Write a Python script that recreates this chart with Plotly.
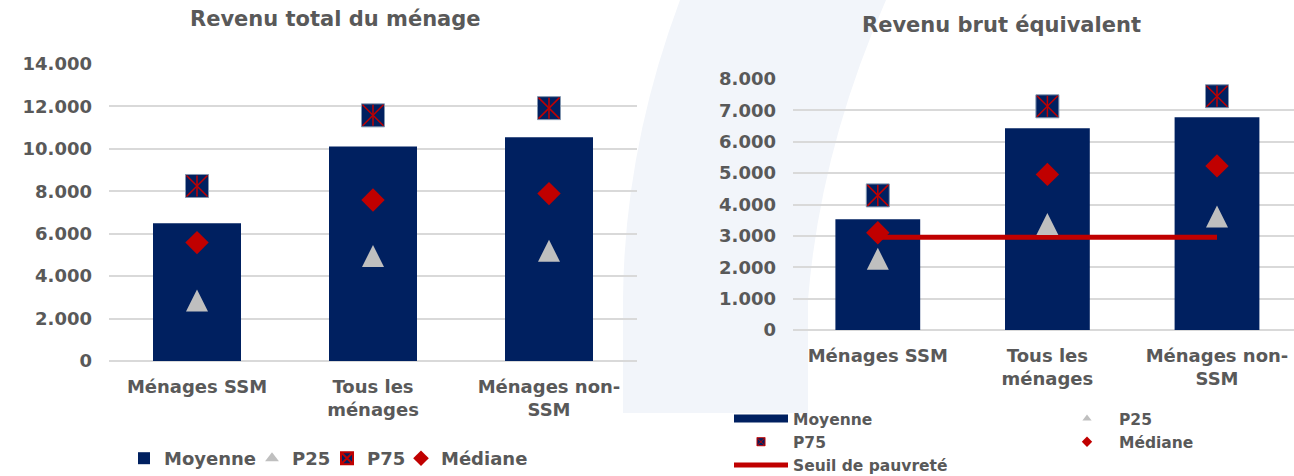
import plotly.graph_objects as go

W, H = 1294, 476

categories = ["Ménages SSM", "Tous les<br>ménages", "Ménages non-<br>SSM"]

# Revenu total du ménage
total_moyenne = [6490, 10110, 10550]
total_p25 = [2850, 4950, 5200]
total_p75 = [8250, 11580, 11920]
total_mediane = [5580, 7590, 7890]

# Revenu brut équivalent
equiv_moyenne = [3530, 6430, 6780]
equiv_p25 = [2270, 3380, 3620]
equiv_p75 = [4290, 7130, 7450]
equiv_mediane = [3100, 4960, 5230]
seuil_pauvrete = [2960, 2960, 2960]

NAVY = "#002060"
RED = "#C00000"
GREY = "#BFBFBF"
TEXT = "#595959"
GRID = "#D9D9D9"
FONT = "DejaVu Sans"


def px(x, y):
    # pixel position -> paper coordinates (margins are zero)
    return x / W, 1 - y / H


def add_panel(fig, xa, ya, moyenne, p25, p75, mediane, show):
    fig.add_trace(go.Bar(x=categories, y=moyenne, name="Moyenne", width=0.5,
                         marker=dict(color=NAVY, line=dict(width=0)),
                         xaxis=xa, yaxis=ya, legend="legend", showlegend=show))
    # isoceles triangle centred on the value
    fig.add_trace(go.Scatter(x=categories, y=p25, name="P25", mode="markers",
                             marker=dict(symbol="arrow-down", angle=180, size=22, standoff=11, color=GREY),
                             xaxis=xa, yaxis=ya, showlegend=False, cliponaxis=False))
    fig.add_trace(go.Scatter(x=categories, y=p75, name="P75", mode="markers",
                             marker=dict(symbol="square", size=23, color=NAVY,
                                         line=dict(color="#8497B0", width=1)),
                             xaxis=xa, yaxis=ya, showlegend=False, cliponaxis=False))
    # red star drawn over the square (x + vertical stroke)
    fig.add_trace(go.Scatter(x=categories, y=p75, mode="markers", hoverinfo="skip",
                             marker=dict(symbol="x-thin-open", size=21, color=RED,
                                         line=dict(color=RED, width=1.5)),
                             xaxis=xa, yaxis=ya, showlegend=False, cliponaxis=False))
    fig.add_trace(go.Scatter(x=categories, y=p75, mode="markers", hoverinfo="skip",
                             marker=dict(symbol="line-ns-open", size=15, color=RED,
                                         line=dict(color=RED, width=1.5)),
                             xaxis=xa, yaxis=ya, showlegend=False, cliponaxis=False))
    fig.add_trace(go.Scatter(x=categories, y=mediane, name="Médiane", mode="markers",
                             marker=dict(symbol="diamond", size=18, color=RED),
                             xaxis=xa, yaxis=ya, legend="legend6", showlegend=show, cliponaxis=False))


fig = go.Figure()

# left panel
add_panel(fig, "x", "y", total_moyenne, total_p25, total_p75, total_mediane, True)
fig.add_trace(go.Scatter(x=[None], y=[None], mode="markers", name="P25", legend="legend4",
                         marker=dict(symbol="triangle-up", color=GREY), xaxis="x", yaxis="y"))
fig.add_trace(go.Scatter(x=[None], y=[None], mode="markers", name="P75", legend="legend5",
                         marker=dict(symbol="square-x", color=NAVY, line=dict(color=RED, width=1.5)),
                         xaxis="x", yaxis="y"))

# right panel
fig.add_trace(go.Scatter(x=categories, y=seuil_pauvrete, mode="lines", name="Seuil de pauvreté",
                         line=dict(color=RED, width=5), xaxis="x2", yaxis="y2", showlegend=False))
add_panel(fig, "x2", "y2", equiv_moyenne, equiv_p25, equiv_p75, equiv_mediane, False)

# legend keys of the right panel (smaller keys, two columns)
fig.add_trace(go.Scatter(x=[None], y=[None], mode="lines", name="Moyenne",
                         line=dict(color=NAVY, width=8), xaxis="x2", yaxis="y2", legend="legend2"))
fig.add_trace(go.Scatter(x=[None], y=[None], mode="markers", name="P75",
                         marker=dict(symbol="square-x", size=8, color=NAVY, line=dict(color=RED, width=1)),
                         xaxis="x2", yaxis="y2", legend="legend2"))
fig.add_trace(go.Scatter(x=[None], y=[None], mode="lines", name="Seuil de pauvreté",
                         line=dict(color=RED, width=5), xaxis="x2", yaxis="y2", legend="legend2"))
fig.add_trace(go.Scatter(x=[None], y=[None], mode="markers", name="P25",
                         marker=dict(symbol="triangle-up", size=8, color=GREY),
                         xaxis="x2", yaxis="y2", legend="legend3"))
fig.add_trace(go.Scatter(x=[None], y=[None], mode="markers", name="Médiane",
                         marker=dict(symbol="diamond", size=8, color=RED),
                         xaxis="x2", yaxis="y2", legend="legend3"))

tick_font = dict(family=FONT, size=18, color=TEXT, weight="bold")

yax = dict(showgrid=True, gridcolor=GRID, gridwidth=2, zeroline=True, zerolinecolor=GRID,
           zerolinewidth=2, tickformat=",d", tickfont=tick_font, ticks="", ticklabelstandoff=16,
           showline=False, fixedrange=True, automargin=False)
xax = dict(type="category", showgrid=False, zeroline=False, showline=False, ticks="",
           tickfont=tick_font, ticklabelstandoff=13, fixedrange=True, automargin=False)

x0, _ = px(109, 0)
x1, _ = px(637, 0)
x2, _ = px(793, 0)
_, yb1 = px(0, 361)
_, yt1 = px(0, 64)
_, yb2 = px(0, 330)
_, yt2 = px(0, 79)

# light background arc
arc = [(680, 0), (624, 150), (623, 300), (623, 413), (808, 413), (808, 300), (820, 150), (886, 0)]
p = [px(a, b) for a, b in arc]
arc_path = (f"M {p[0][0]},{p[0][1]} Q {p[1][0]},{p[1][1]} {p[2][0]},{p[2][1]} "
            f"L {p[3][0]},{p[3][1]} L {p[4][0]},{p[4][1]} L {p[5][0]},{p[5][1]} "
            f"Q {p[6][0]},{p[6][1]} {p[7][0]},{p[7][1]} Z")

leg_font = dict(family=FONT, size=18, color=TEXT, weight="bold")
leg_font_small = dict(family=FONT, size=15.5, color=TEXT, weight="bold")


def left_legend(xpix):
    # one entry per legend so each key sits where it does in the original
    return dict(orientation="h", x=px(xpix, 0)[0], y=px(0, 440)[1], xanchor="left", yanchor="top",
                font=leg_font, itemsizing="constant", bgcolor="rgba(0,0,0,0)", itemwidth=30)


fig.update_layout(
    width=W, height=H,
    margin=dict(l=0, r=0, t=0, b=0, autoexpand=False),
    paper_bgcolor="white", plot_bgcolor="rgba(0,0,0,0)",
    separators=",.",
    barmode="overlay",
    xaxis=dict(xax, domain=[x0, x1], range=[-0.5, 2.5], anchor="y"),
    yaxis=dict(yax, domain=[yb1, yt1], range=[0, 14000], dtick=2000, anchor="x"),
    xaxis2=dict(xax, domain=[x2, 1], range=[-0.5, 2.454], anchor="y2"),
    yaxis2=dict(yax, domain=[yb2, yt2], range=[0, 8000], dtick=1000, anchor="x2"),
    shapes=[dict(type="path", path=arc_path, xref="paper", yref="paper",
                 fillcolor="#F2F5FA", line=dict(width=0), layer="below")],
    annotations=[
        dict(text="Revenu total du ménage", x=px(335, 0)[0], y=px(0, 19)[1], xref="paper", yref="paper",
             showarrow=False, xanchor="center", yanchor="middle",
             font=dict(family=FONT, size=21, color=TEXT, weight="bold")),
        dict(text="Revenu brut équivalent", x=px(1001, 0)[0], y=px(0, 25)[1], xref="paper", yref="paper",
             showarrow=False, xanchor="center", yanchor="middle",
             font=dict(family=FONT, size=21, color=TEXT, weight="bold")),
    ],
    legend=left_legend(124),
    legend4=left_legend(252),
    legend5=left_legend(327),
    legend6=left_legend(401),
    legend2=dict(orientation="v", x=px(729, 0)[0], y=px(0, 402)[1], xanchor="left", yanchor="top",
                 font=leg_font_small, bgcolor="rgba(0,0,0,0)", itemwidth=54, tracegroupgap=0),
    legend3=dict(orientation="v", x=px(1055, 0)[0], y=px(0, 402)[1], xanchor="left", yanchor="top",
                 font=leg_font_small, bgcolor="rgba(0,0,0,0)", itemwidth=54, tracegroupgap=0),
    showlegend=True,
)

# the page body has a default margin; remove it so the figure fills the window
fig.write_html("out.html", config={"displayModeBar": False},
               post_script="document.body.style.margin='0px';")
